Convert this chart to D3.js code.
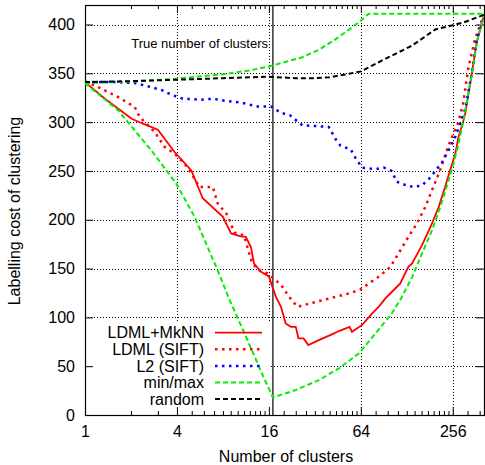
<!DOCTYPE html>
<html>
<head>
<meta charset="utf-8">
<script src="https://cdn.jsdelivr.net/npm/d3@7.9.0/dist/d3.min.js"></script>
<style>
  body { margin: 0; background: #fff; }
  svg { display: block; font-family: "Liberation Sans", Arial, sans-serif; }
</style>
</head>
<body>
<svg width="485" height="465"></svg>
<script>
// values: [number of clusters, labelling cost]
const ldmlMknn = [[1,341],[1.35,324],[2.02,303.5],[2.4,298.4],[3,292.3],[3.86,269.4],[4.97,250.6],[5.9,222],[8,203],[9.05,186],[10.5,183],[11.3,182.4],[12.2,172],[12.8,155],[14.2,146.6],[16,142],[16.9,131],[17.8,121],[19.2,110.8],[20.6,93.8],[22.3,90.3],[24,90.3],[25,78.4],[27,78.4],[29,71.6],[34,76.7],[41.7,82.9],[46,86],[51,88.7],[54,90.3],[56,85.2],[65,92],[76,104],[84,111],[92.7,119.4],[102,126],[116,134.7],[131,151.7],[138.7,155.2],[161,174],[183,192.6],[207,213],[228,233.6],[246,250.6],[266,267.7],[279,284.7],[301,301.8],[310,310],[342,351],[368,382],[410,410]];
const ldmlSift = [[1,341],[1.16,337.6],[1.42,330.7],[1.65,325.6],[1.92,319.5],[2.12,315.4],[2.28,305.2],[2.53,298.4],[2.86,289.8],[3.33,274.5],[3.86,267.7],[4.49,257.5],[4.97,247.3],[5.62,233.6],[6.87,233.6],[7.4,216.6],[8.6,204.6],[9.5,187],[11,184],[11.9,165.4],[12.5,155],[13.8,148.3],[15.7,145],[17.8,138],[19.7,131],[21.7,121],[24.6,110.8],[28.6,113.6],[35.9,117.6],[43.6,121],[53.5,124.5],[63.8,128.6],[72,134.7],[83.7,141.5],[100,151.7],[113,165.4],[131,182.4],[149,196],[169,213],[187,230],[207,247],[223,261],[240,276],[258,288],[279,300],[300,320],[323,354.7],[358,385],[410,410]];
const l2Sift = [[1,341],[1.6,341],[2.12,340],[2.46,337.6],[3.16,333],[3.68,328],[4.37,324],[5.76,323],[6.87,324],[8.6,321.5],[10.5,320],[13.5,316],[16.5,316],[19.2,309.5],[22,307],[26.5,296.7],[32.3,296],[39.5,295],[43.6,283],[47,276],[55,272],[59.7,262],[65.3,253.4],[79.8,251.7],[90.5,253.4],[102,250],[110,239],[128,235],[141,233.6],[160,235],[177,241],[197,250],[218,259],[246,274],[266,285],[279,294],[310,314],[342,351],[368,385],[410,410]];
const minMaxLow = [[1,340],[1.65,312],[2.72,271],[3.96,237],[5.22,203],[7.4,148],[8.84,118],[11.06,84],[14.55,41],[17,18],[24,25.6],[34,35.8],[46,47.8],[62,63],[80,83.6],[102,104],[119,121],[139,141.5],[161,165.4],[187,189],[212,213],[233,233.6],[259,257.5],[279,278],[301,301.8],[342,350],[368,382],[410,410]];
const minMaxHigh = [[1,340],[2,341.5],[4,344.5],[8,349],[12,353],[16,357],[26.5,366.5],[34,374],[43.8,385],[56,397],[64,404],[72,411],[410,411]];
const random = [[1,341],[2,342],[4,343.5],[8,345],[16,346.5],[24,345],[32,345],[40,346],[53.5,349.5],[64,352],[93,365],[139,378.5],[197,395],[252,399],[300,402],[410,410]];

const trueClusters = 17;
const xMajorTicks = [1, 4, 16, 64, 256];
const yTicks = [0, 50, 100, 150, 200, 250, 300, 350, 400];
const legendLabels = ['LDML+MkNN', 'LDML (SIFT)', 'L2 (SIFT)', 'min/max', 'random'];

// minor ticks: linear steps of a quarter of the lower major tick
let xMinorTicks = [2, 3];
[4, 16, 64, 256].forEach(m => {
  for (let v = m + m / 4; v < m * 4 && v <= 410; v += m / 4) xMinorTicks.push(v);
});

const svg = d3.select('svg');
const plotLeft = 85, plotRight = 484, plotTop = 5, plotBottom = 415;

const x = d3.scaleLog().base(2).domain([1, 410]).range([plotLeft, plotRight]);
const y = d3.scaleLinear().domain([0, 420]).range([plotBottom, plotTop]);

// dotted grid
const grid = svg.append('g')
  .attr('stroke', '#000')
  .attr('stroke-width', 1)
  .attr('stroke-dasharray', '1,2');
xMajorTicks.slice(1).forEach(t => {
  grid.append('line')
    .attr('x1', Math.round(x(t)) + 0.5).attr('x2', Math.round(x(t)) + 0.5)
    .attr('y1', plotTop).attr('y2', plotBottom);
});
yTicks.slice(1).forEach(t => {
  grid.append('line')
    .attr('x1', plotLeft).attr('x2', plotRight)
    .attr('y1', Math.round(y(t)) + 0.5).attr('y2', Math.round(y(t)) + 0.5);
});

// key area hides the grid behind it
svg.append('rect')
  .attr('x', plotLeft + 1).attr('y', 322)
  .attr('width', 185).attr('height', plotBottom - 323)
  .attr('fill', '#fff');

// axes, ticks pointing inwards on all four sides
function styleAxis(g) {
  g.select('.domain').remove();
  g.attr('font-size', 16).attr('font-family', null);
  g.selectAll('text').attr('fill', '#000');
}

svg.append('g')
  .attr('transform', `translate(0,${plotBottom})`)
  .call(d3.axisBottom(x).tickValues(xMajorTicks).tickFormat(d3.format('d')).tickSize(-8).tickPadding(11))
  .call(styleAxis);
svg.append('g')
  .attr('transform', `translate(0,${plotBottom})`)
  .call(d3.axisBottom(x).tickValues(xMinorTicks).tickFormat('').tickSize(-4))
  .call(styleAxis);
svg.append('g')
  .attr('transform', `translate(0,${plotTop})`)
  .call(d3.axisTop(x).tickValues(xMajorTicks).tickFormat('').tickSize(-8))
  .call(styleAxis);
svg.append('g')
  .attr('transform', `translate(0,${plotTop})`)
  .call(d3.axisTop(x).tickValues(xMinorTicks).tickFormat('').tickSize(-4))
  .call(styleAxis);
svg.append('g')
  .attr('transform', `translate(${plotLeft},0)`)
  .call(d3.axisLeft(y).tickValues(yTicks).tickSize(-8).tickPadding(10))
  .call(styleAxis);
svg.append('g')
  .attr('transform', `translate(${plotRight},0)`)
  .call(d3.axisRight(y).tickValues(yTicks).tickFormat('').tickSize(-8))
  .call(styleAxis);

// frame
svg.append('rect')
  .attr('x', plotLeft + 0.5).attr('y', plotTop + 0.5)
  .attr('width', plotRight - plotLeft).attr('height', plotBottom - plotTop)
  .attr('fill', 'none').attr('stroke', '#000').attr('stroke-width', 1.2);

// true number of clusters
svg.append('line')
  .attr('x1', x(trueClusters)).attr('x2', x(trueClusters))
  .attr('y1', plotTop).attr('y2', plotBottom)
  .attr('stroke', '#000').attr('stroke-width', 1.2);
svg.append('text')
  .attr('x', 268).attr('y', 47.5)
  .attr('text-anchor', 'end')
  .attr('font-size', 13)
  .text('True number of clusters');

svg.append('clipPath').attr('id', 'plot-clip')
  .append('rect').attr('x', plotLeft).attr('y', plotTop)
  .attr('width', plotRight - plotLeft).attr('height', plotBottom - plotTop);

const styles = [
  { color: '#ff0000', dash: null, width: 1.8 },
  { color: '#ff0000', dash: '2.5,4.5', width: 2.5 },
  { color: '#0000ff', dash: '2.5,4.5', width: 2.5 },
  { color: '#00ee00', dash: '5,3', width: 2 },
  { color: '#000000', dash: '5,3', width: 2 }
];
const seriesData = [[ldmlMknn], [ldmlSift], [l2Sift], [minMaxLow, minMaxHigh], [random]];

const line = d3.line().x(d => x(d[0])).y(d => y(d[1]));
const plot = svg.append('g').attr('clip-path', 'url(#plot-clip)');

seriesData.forEach((parts, i) => {
  parts.forEach(pts => {
    plot.append('path')
      .attr('d', line(pts))
      .attr('fill', 'none')
      .attr('stroke', styles[i].color)
      .attr('stroke-width', styles[i].width)
      .attr('stroke-dasharray', styles[i].dash);
  });
});

// key
const legend = svg.append('g');
legendLabels.forEach((label, i) => {
  const ry = 332.7 + i * 16.6;
  legend.append('text')
    .attr('x', 204).attr('y', ry)
    .attr('dy', '0.35em')
    .attr('text-anchor', 'end')
    .attr('font-size', 16)
    .text(label);
  legend.append('line')
    .attr('x1', 215).attr('x2', 262)
    .attr('y1', ry).attr('y2', ry)
    .attr('stroke', styles[i].color)
    .attr('stroke-width', styles[i].width)
    .attr('stroke-dasharray', styles[i].dash);
});

// axis titles
svg.append('text')
  .attr('x', 286).attr('y', 461.5)
  .attr('text-anchor', 'middle')
  .attr('font-size', 16)
  .text('Number of clusters');
svg.append('text')
  .attr('transform', 'translate(20,211) rotate(-90)')
  .attr('text-anchor', 'middle')
  .attr('font-size', 16)
  .text('Labelling cost of clustering');
</script>
</body>
</html>
